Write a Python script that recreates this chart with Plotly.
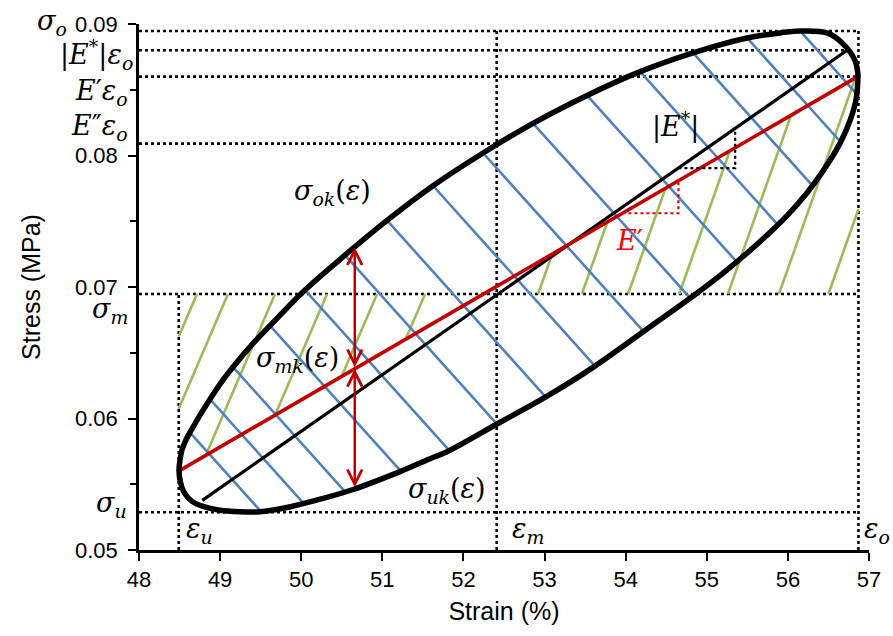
import numpy as np
import plotly.graph_objects as go

# ---------------- data (strain in %, stress in MPa) ----------------
upper_strain = [48.493, 48.506, 48.530, 48.580, 48.654, 48.752, 48.875, 49.023, 49.184, 49.393,
                49.615, 50.047, 50.540, 51.058, 51.625, 52.242, 52.858, 53.524, 54.178, 54.831,
                55.497, 55.904, 56.150, 56.483, 56.680, 56.828, 56.865]
upper_stress = [0.05604, 0.05687, 0.05762, 0.05838, 0.05921, 0.06026, 0.06147, 0.06283, 0.06411, 0.06562,
                0.06706, 0.06977, 0.07242, 0.07506, 0.07770, 0.08019, 0.08245, 0.08457, 0.08638, 0.08781,
                0.08894, 0.08932, 0.08947, 0.08932, 0.08849, 0.08721, 0.08608]
lower_strain = [48.493, 48.512, 48.555, 48.654, 48.789, 48.999, 49.245, 49.492, 49.776, 50.269,
                50.639, 51.218, 51.588, 51.798, 52.414, 53.031, 53.598, 54.387, 54.831, 55.201,
                55.620, 55.990, 56.237, 56.434, 56.644, 56.767, 56.841, 56.865]
lower_stress = [0.05604, 0.05513, 0.05438, 0.05370, 0.05332, 0.05302, 0.05291, 0.05291, 0.05317, 0.05392,
                0.05460, 0.05596, 0.05694, 0.05747, 0.05958, 0.06170, 0.06389, 0.06736, 0.06932, 0.07106,
                0.07325, 0.07543, 0.07717, 0.07883, 0.08094, 0.08268, 0.08426, 0.08608]

eps_u, eps_m, eps_o = 48.49, 52.41, 56.87
sigma_o, sigma_m, sigma_u = 0.08947, 0.06947, 0.05287
Estar_eps_o, E1_eps_o, E2_eps_o = 0.0880, 0.0860, 0.08090

storage_strain = [48.50, 56.86]      # E' line
storage_stress = [0.05604, 0.0860]
modulus_strain = [48.78, 56.73]      # |E*| line
modulus_stress = [0.05377, 0.0880]

blue_hatch_strain = [48.629, 48.875, 49.159, 49.615, 50.047, 50.540, 51.058, 51.625,
                     52.242, 52.858, 53.524, 54.178, 54.831, 55.497, 56.150]
green_left_strain = [48.715, 49.097, 49.677, 50.318, 50.935, 51.527]
green_right_strain = [52.92, 53.46, 54.03, 54.66, 55.26, 55.89, 56.50]
arrow_strain = 50.66
tri_storage_strain = [53.96, 54.65]
tri_modulus_strain = [54.65, 55.35]

x_ticks = list(range(48, 58))
y_ticks = [0.05, 0.06, 0.07, 0.08, 0.09]

# ---------------- styles ----------------
BLUE = "#4F81BD"
GREEN = "#9BBB59"
RED = "#C00000"
BLUE_SLOPE = -0.00686
GREEN_SLOPE_L = 0.01438
GREEN_SLOPE_R = 0.01744
SERIF = "DejaVu Serif"
SANS = "Liberation Sans"


def upper(x):
    return np.interp(x, upper_strain, upper_stress)


def lower(x):
    return np.interp(x, lower_strain, lower_stress)


def line_fn(xs, ys):
    s = (ys[1] - ys[0]) / (xs[1] - xs[0])
    return s, (lambda x: ys[0] + s * (x - xs[0]))


sr, red = line_fn(storage_strain, storage_stress)
sk, black = line_fn(modulus_strain, modulus_stress)

fig = go.Figure()

# dotted reference lines
dx, dy = [], []
for y, x1 in [(sigma_o, eps_o), (Estar_eps_o, modulus_strain[1]), (E1_eps_o, eps_o),
              (E2_eps_o, eps_m), (sigma_m, eps_o), (sigma_u, eps_o)]:
    dx += [48, x1, None]
    dy += [y, y, None]
for x, y1 in [(eps_u, sigma_m), (eps_m, sigma_o), (eps_o, sigma_o)]:
    dx += [x, x, None]
    dy += [0.05, y1, None]
fig.add_trace(go.Scatter(x=dx, y=dy, mode="lines", line=dict(color="black", width=2.6, dash="dot"),
                         hoverinfo="skip", cliponaxis=False))

# green hatch
gx, gy = [], []
for g in green_left_strain:
    xi = (storage_stress[0] - sr * storage_strain[0] - sigma_m + GREEN_SLOPE_L * g) / (GREEN_SLOPE_L - sr)
    x1 = max(xi, eps_u)
    gx += [g, x1, None]
    gy += [sigma_m, sigma_m + GREEN_SLOPE_L * (x1 - g), None]
for g in green_right_strain:
    xi = (storage_stress[0] - sr * storage_strain[0] - sigma_m + GREEN_SLOPE_R * g) / (GREEN_SLOPE_R - sr)
    x1 = min(xi, eps_o)
    gx += [g, x1, None]
    gy += [sigma_m, sigma_m + GREEN_SLOPE_R * (x1 - g), None]
fig.add_trace(go.Scatter(x=gx, y=gy, mode="lines", line=dict(color=GREEN, width=2.6), hoverinfo="skip"))

# blue hatch
bx, by = [], []
for x0 in blue_hatch_strain:
    y0 = float(upper(x0))
    xs = np.linspace(x0, lower_strain[-1], 4000)
    ys = y0 + BLUE_SLOPE * (xs - x0)
    d = ys - lower(xs)
    idx = int(np.argmax(d <= 0)) if np.any(d <= 0) else len(xs) - 1
    bx += [x0, float(xs[idx]), None]
    by += [y0, float(ys[idx]), None]
fig.add_trace(go.Scatter(x=bx, y=by, mode="lines", line=dict(color=BLUE, width=2.6), hoverinfo="skip"))

# |E*| line and E' line
fig.add_trace(go.Scatter(x=modulus_strain, y=modulus_stress, mode="lines",
                         line=dict(color="black", width=3.2), hoverinfo="skip"))
fig.add_trace(go.Scatter(x=storage_strain, y=storage_stress, mode="lines",
                         line=dict(color=RED, width=3.6), hoverinfo="skip"))

# slope triangles
t0, t1 = tri_storage_strain
fig.add_trace(go.Scatter(x=[t0, t1, t1], y=[red(t0), red(t0), red(t1)], mode="lines",
                         line=dict(color="#E00000", width=2.2, dash="dot"), hoverinfo="skip"))
k0, k1 = tri_modulus_strain
fig.add_trace(go.Scatter(x=[k0, k1, k1], y=[black(k0), black(k0), black(k1)], mode="lines",
                         line=dict(color="black", width=2.2, dash="dot"), hoverinfo="skip"))

# hysteresis loop
loop_x = list(lower_strain) + list(upper_strain[::-1])
loop_y = list(lower_stress) + list(upper_stress[::-1])
fig.add_trace(go.Scatter(x=loop_x, y=loop_y, mode="lines",
                         line=dict(color="black", width=5.5, shape="spline", smoothing=1.0),
                         hoverinfo="skip"))

ann = []
# double arrows
ya_top, ya_mid, ya_bot = float(upper(arrow_strain)), float(red(arrow_strain)), float(lower(arrow_strain))
for y_a, y_b in [(ya_mid, ya_top), (ya_bot, ya_mid)]:
    ann.append(dict(x=arrow_strain, y=y_b, ax=arrow_strain, ay=y_a, xref="x", yref="y",
                    axref="x", ayref="y", text="", showarrow=True, arrowhead=5, startarrowhead=5,
                    arrowside="end+start", arrowsize=1.15, startarrowsize=1.15, arrowwidth=2.5,
                    arrowcolor=RED, standoff=0, startstandoff=0))

lab_font = dict(family=SERIF, size=27, color="black")
# left margin labels: (text, paper x of right edge, stress value, vertical pixel shift)
left_labels = [
    ("<i>σ<sub>o</sub></i>", -0.096, sigma_o, 8),
    ("|<i>E</i><sup>*</sup>|<i>ε<sub>o</sub></i>", -0.006, 0.08770, 0),
    ("<i>E</i>′<i>ε<sub>o</sub></i>", -0.012, 0.08480, 0),
    ("<i>E</i>″<i>ε<sub>o</sub></i>", -0.012, 0.08215, 0),
    ("<i>σ<sub>m</sub></i>", -0.012, 0.06825, 0),
    ("<i>σ<sub>u</sub></i>", -0.014, 0.05345, 0),
]
for t, xp, yv, ys_ in left_labels:
    ann.append(dict(x=xp, y=yv, xref="paper", yref="y", text=t, showarrow=False, yshift=ys_,
                    xanchor="right", yanchor="middle", font=lab_font))

in_labels = [
    ("<i>σ<sub>ok</sub></i>(<i>ε</i>)", 50.39, 0.07717, "center", "black"),
    ("<i>σ<sub>mk</sub></i>(<i>ε</i>)", 49.95, 0.06449, "center", "black"),
    ("<i>σ<sub>uk</sub></i>(<i>ε</i>)", 51.80, 0.05453, "center", "black"),
    ("|<i>E</i><sup>*</sup>|", 54.61, 0.08230, "center", "black"),
    ("<i>E</i>′", 54.05, 0.07355, "center", "#FF0000"),
    ("<i>ε<sub>u</sub></i>", eps_u + 0.06, 0.05150, "left", "black"),
    ("<i>ε<sub>m</sub></i>", eps_m + 0.16, 0.05150, "left", "black"),
    ("<i>ε<sub>o</sub></i>", eps_o + 0.04, 0.05150, "left", "black"),
]
for t, xv, yv, xa, col in in_labels:
    ann.append(dict(x=xv, y=yv, xref="x", yref="y", text=t, showarrow=False,
                    xanchor=xa, yanchor="middle", font=dict(family=SERIF, size=27, color=col)))

fig.update_layout(
    width=893, height=636,
    margin=dict(l=139, r=24, t=20, b=86),
    paper_bgcolor="white", plot_bgcolor="white",
    showlegend=False,
    annotations=ann,
    font=dict(family=SANS, color="black"),
)
fig.update_xaxes(range=[48, 57], tickvals=x_ticks, ticks="outside", ticklen=8, tickwidth=2,
                 tickcolor="black", showline=True, linecolor="black", linewidth=2.5,
                 showgrid=False, zeroline=False, tickfont=dict(family=SANS, size=22),
                 title=dict(text="Strain (%)", font=dict(family=SANS, size=25), standoff=12))
fig.update_yaxes(range=[0.05, 0.09], tickvals=y_ticks, tickformat=".2f", ticks="outside",
                 ticklen=8, tickwidth=2, tickcolor="black", showline=True, linecolor="black",
                 linewidth=2.5, showgrid=False, zeroline=False, tickfont=dict(family=SANS, size=22),
                 ticklabelstandoff=6,
                 minor=dict(dtick=0.005, ticks="outside", ticklen=6, tickwidth=2, tickcolor="black",
                            showgrid=False),
                 title=dict(text="Stress (MPa)", font=dict(family=SANS, size=25), standoff=28))

fig.write_html("out.html")
